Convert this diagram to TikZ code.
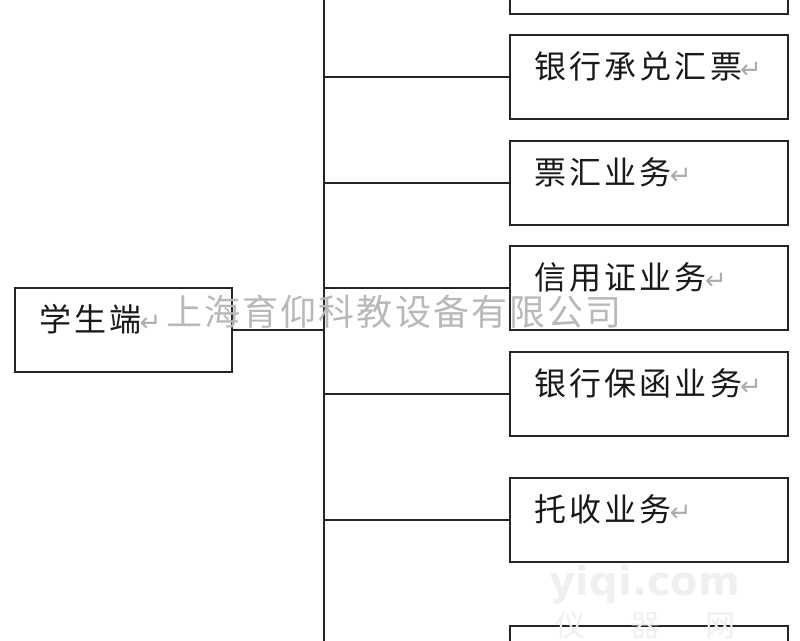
\documentclass[tikz,border=0pt]{standalone}
\usepackage{fontspec}
\usetikzlibrary{calc}
\newfontfamily\cjk[LetterSpace=10]{Noto Sans CJK SC}
\newfontfamily\cjkw[LetterSpace=6]{Noto Sans CJK SC}
\newfontfamily\cjkp{Noto Sans CJK SC}
\newfontfamily\djv{DejaVu Sans}
\newcommand{\ret}{\hspace{-2pt}{\djv\fontsize{26}{26}\selectfont\color{gray!65}↵}}
\tikzset{
  box/.style={draw=black!85, line width=2pt, rectangle, minimum width=278pt, minimum height=84pt, anchor=north west, inner sep=0pt, outer sep=0pt},
  lbl/.style={anchor=west, inner sep=0pt, font=\cjk\fontsize{32}{32}\selectfont, text=black!90},
  conn/.style={draw=black!85, line width=2pt},
  wm/.style={inner sep=0pt, font=\cjkw\fontsize{36}{36}\selectfont, text=gray!55},
}
\begin{document}
\begin{tikzpicture}[x=1pt,y=-1pt]
\useasboundingbox (0,0) rectangle (800,640);
\fill[white] (0,0) rectangle (800,640);
% trunk
\coordinate (ttop) at (324,-2);
\coordinate (tbot) at (324,642);
\draw[conn] (ttop) -- (tbot);
% left box
\node[box, minimum width=217pt] (s) at (15,288) {};
\node[lbl] (sl) at ($(s.north west)+(24,31)$) {学生端\ret};
% right boxes
\node[box] (b1) at (510,-70) {};
\node[box] (b2) at (510,35) {};
\node[box] (b3) at (510,141) {};
\node[box] (b4) at (510,246) {};
\node[box] (b5) at (510,352) {};
\node[box] (b6) at (510,478) {};
\node[box] (b7) at (510,626) {};
\node[lbl] (l2) at ($(b2.north west)+(24,31)$) {银行承兑汇票\ret};
\node[lbl] (l3) at ($(b3.north west)+(24,31)$) {票汇业务\ret};
\node[lbl] (l4) at ($(b4.north west)+(24,31)$) {信用证业务\ret};
\node[lbl] (l5) at ($(b5.north west)+(24,31)$) {银行保函业务\ret};
\node[lbl] (l6) at ($(b6.north west)+(24,31)$) {托收业务\ret};
% connectors
\draw[conn] (s.east) -- (s.east -| ttop);
\draw[conn] (b2.west) -- (b2.west -| ttop);
\draw[conn] (b3.west) -- (b3.west -| ttop);
\draw[conn] (b4.west) -- (b4.west -| ttop);
\draw[conn] (b5.west) -- (b5.west -| ttop);
\draw[conn] (b6.west) -- (b6.west -| ttop);
% watermarks
\node[wm, anchor=west] (w1) at (166,312) {上海育仰科教设备有限公司};
\node[inner sep=0pt, font=\djv\bfseries\fontsize{40}{40}\selectfont, text=gray!12] (w2) at (645,585) {yiqi.com};
\node[inner sep=0pt, font=\cjkp\fontsize{30}{30}\selectfont, text=gray!12] (w3) at (645,625) {仪\hspace{1.5em}器\hspace{1.5em}网};
\end{tikzpicture}
\end{document}
